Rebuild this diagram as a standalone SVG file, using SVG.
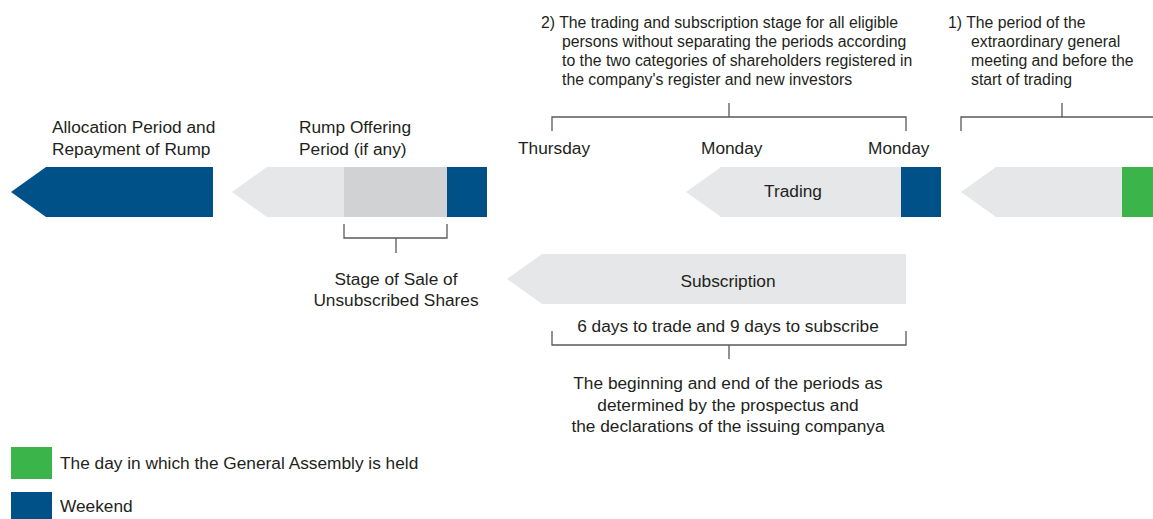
<svg xmlns="http://www.w3.org/2000/svg" width="1153" height="519" viewBox="0 0 1153 519">
<style>
text{font-family:"Liberation Sans",Arial,sans-serif;font-size:17.3px;fill:#231f20}
.s{font-size:15.8px}
.c{text-anchor:middle}
.br{fill:none;stroke:#58595b;stroke-width:1.3}
.blue{fill:#005187}.lg{fill:#e6e7e8}.mg{fill:#d0d2d3}.gr{fill:#3bb54a}
</style>
<rect width="1153" height="519" fill="#ffffff"/>
<g id="allocation">
<polygon class="blue" points="11,192 46,167 213,167 213,217 46,217"/>
<text x="52" y="133">Allocation Period and</text>
<text x="52" y="155">Repayment of Rump</text>
</g>
<g id="rump">
<polygon class="lg" points="232,192 267,167 344,167 344,217 267,217"/>
<rect class="mg" x="344" y="167" width="103" height="50"/>
<rect class="blue" x="447" y="167" width="40" height="50"/>
<text x="299" y="133">Rump Offering</text>
<text x="299" y="155">Period (if any)</text>
</g>
<g id="stage">
<text class="c" x="396" y="285">Stage of Sale of</text>
<text class="c" x="396" y="306">Unsubscribed Shares</text>
</g>
<g id="trading">
<polygon class="lg" points="686,192 721,167 901,167 901,217 721,217"/>
<rect class="blue" x="901" y="167" width="40" height="50"/>
<text class="c" x="793" y="197">Trading</text>
</g>
<g id="meeting">
<polygon class="lg" points="961,192 996,167 1122,167 1122,217 996,217"/>
<rect class="gr" x="1122" y="167" width="31" height="50"/>
</g>
<g id="subscription">
<polygon class="lg" points="507,279 542,254 906,254 906,304 542,304"/>
<text class="c" x="728" y="287">Subscription</text>
</g>
<g id="days">
<text x="518" y="154">Thursday</text>
<text x="701" y="154">Monday</text>
<text x="868" y="154">Monday</text>
</g>
<g id="stage2" class="s">
<text class="s" x="541" y="28">2) The trading and subscription stage for all eligible</text>
<text class="s" x="562" y="47">persons without separating the periods according</text>
<text class="s" x="562" y="66">to the two categories of shareholders registered in</text>
<text class="s" x="562" y="85">the company's register and new investors</text>
</g>
<g id="stage1">
<text class="s" x="948" y="28">1) The period of the</text>
<text class="s" x="971" y="47">extraordinary general</text>
<text class="s" x="971" y="66">meeting and before the</text>
<text class="s" x="971" y="85">start of trading</text>
</g>
<g id="periods">
<text class="c" x="728" y="332">6 days to trade and 9 days to subscribe</text>
<text class="c" x="728" y="389">The beginning and end of the periods as</text>
<text class="c" x="728" y="411">determined by the prospectus and</text>
<text class="c" x="728" y="432">the declarations of the issuing companya</text>
</g>
<g id="legend">
<rect class="gr" x="11" y="447" width="41" height="32"/>
<text x="60" y="469">The day in which the General Assembly is held</text>
<rect class="blue" x="11" y="492" width="41" height="27"/>
<text x="60" y="512">Weekend</text>
</g>
<g id="connectors">
<path class="br" d="M552,131V117H906V131M729,117V103"/>
<path class="br" d="M961,131V117H1153M1062,117V103"/>
<path class="br" d="M344,224V238H447V224M396,238V253"/>
<path class="br" d="M552,331V345H906V331M729,345V359"/>
</g>
</svg>
